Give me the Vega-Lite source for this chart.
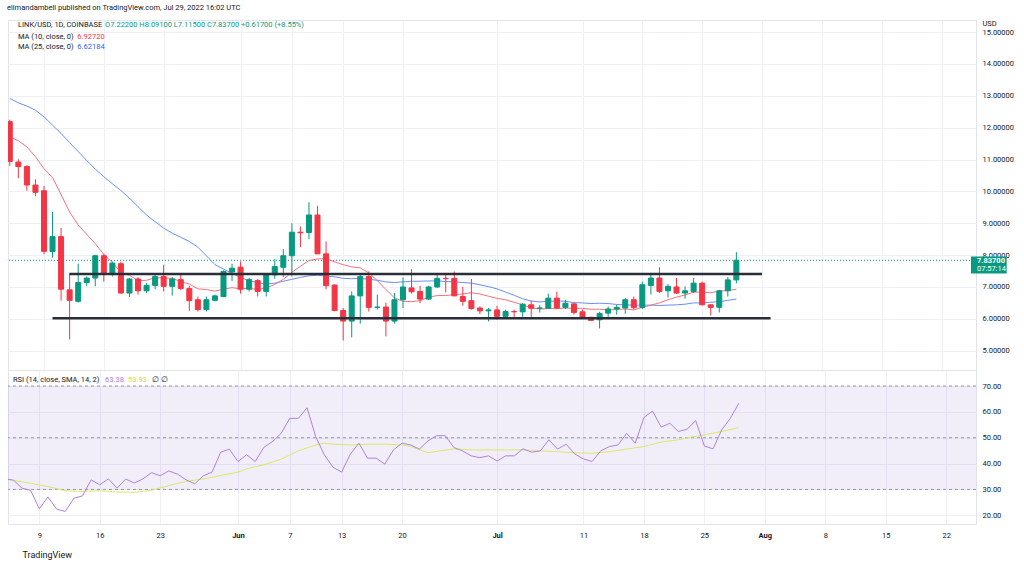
{
  "$schema": "https://vega.github.io/schema/vega-lite/v6.json",
  "background": "#ffffff",
  "padding": {"left": 7, "top": 4, "right": 0, "bottom": 0},
  "title": {"text": "elimandambell published on TradingView.com, Jul 29, 2022 16:02 UTC", "anchor": "start", "fontSize": 7.5, "fontWeight": "normal", "color": "#131722", "offset": 7, "font": "Roboto"},
  "spacing": 0,
  "bounds": "flush",
  "datasets": {
    "daily": [
      {"date": "2022-05-05", "open": 12.19, "high": 12.25, "low": 10.8, "close": 10.94, "ma10": 11.71, "ma25": 12.92, "rsi": 34.1},
      {"date": "2022-05-06", "open": 10.92, "high": 11.01, "low": 10.41, "close": 10.78, "ma10": 11.59, "ma25": 12.78, "rsi": 33.6},
      {"date": "2022-05-07", "open": 10.78, "high": 10.82, "low": 10.02, "close": 10.2, "ma10": 11.4, "ma25": 12.68, "rsi": 30.5},
      {"date": "2022-05-08", "open": 10.2, "high": 10.38, "low": 9.85, "close": 9.97, "ma10": 11.09, "ma25": 12.55, "rsi": 29.6},
      {"date": "2022-05-09", "open": 10.02, "high": 10.17, "low": 8.03, "close": 8.12, "ma10": 10.71, "ma25": 12.34, "rsi": 22.5},
      {"date": "2022-05-10", "open": 8.11, "high": 9.35, "low": 7.92, "close": 8.58, "ma10": 10.44, "ma25": 12.08, "rsi": 27.1},
      {"date": "2022-05-11", "open": 8.58, "high": 8.85, "low": 6.57, "close": 6.93, "ma10": 9.9, "ma25": 11.82, "rsi": 22.4},
      {"date": "2022-05-12", "open": 6.91, "high": 7.44, "low": 5.35, "close": 6.58, "ma10": 9.35, "ma25": 11.53, "rsi": 21.5},
      {"date": "2022-05-13", "open": 6.55, "high": 7.73, "low": 6.51, "close": 7.14, "ma10": 8.95, "ma25": 11.25, "rsi": 26.6},
      {"date": "2022-05-14", "open": 7.14, "high": 7.33, "low": 7.02, "close": 7.28, "ma10": 8.65, "ma25": 10.97, "rsi": 27.5},
      {"date": "2022-05-15", "open": 7.28, "high": 8.01, "low": 7.02, "close": 7.98, "ma10": 8.36, "ma25": 10.7, "rsi": 33.7},
      {"date": "2022-05-16", "open": 7.98, "high": 8.04, "low": 7.17, "close": 7.41, "ma10": 8.02, "ma25": 10.46, "rsi": 31.8},
      {"date": "2022-05-17", "open": 7.41, "high": 7.8, "low": 7.33, "close": 7.75, "ma10": 7.77, "ma25": 10.24, "rsi": 34.1},
      {"date": "2022-05-18", "open": 7.73, "high": 7.8, "low": 6.79, "close": 6.81, "ma10": 7.46, "ma25": 10.03, "rsi": 30.5},
      {"date": "2022-05-19", "open": 6.81, "high": 7.28, "low": 6.68, "close": 7.25, "ma10": 7.37, "ma25": 9.79, "rsi": 34.0},
      {"date": "2022-05-20", "open": 7.25, "high": 7.31, "low": 6.76, "close": 6.88, "ma10": 7.2, "ma25": 9.52, "rsi": 32.5},
      {"date": "2022-05-21", "open": 6.88, "high": 7.12, "low": 6.81, "close": 7.05, "ma10": 7.21, "ma25": 9.26, "rsi": 34.1},
      {"date": "2022-05-22", "open": 7.05, "high": 7.41, "low": 6.93, "close": 7.33, "ma10": 7.29, "ma25": 9.05, "rsi": 36.5},
      {"date": "2022-05-23", "open": 7.33, "high": 7.7, "low": 6.86, "close": 7.02, "ma10": 7.28, "ma25": 8.85, "rsi": 35.3},
      {"date": "2022-05-24", "open": 7.02, "high": 7.31, "low": 6.73, "close": 7.25, "ma10": 7.27, "ma25": 8.69, "rsi": 37.2},
      {"date": "2022-05-25", "open": 7.23, "high": 7.41, "low": 6.91, "close": 6.95, "ma10": 7.17, "ma25": 8.56, "rsi": 35.9},
      {"date": "2022-05-26", "open": 6.95, "high": 7.04, "low": 6.25, "close": 6.57, "ma10": 7.09, "ma25": 8.43, "rsi": 33.7},
      {"date": "2022-05-27", "open": 6.6, "high": 6.7, "low": 6.23, "close": 6.29, "ma10": 6.94, "ma25": 8.25, "rsi": 32.2},
      {"date": "2022-05-28", "open": 6.29, "high": 6.7, "low": 6.23, "close": 6.6, "ma10": 6.92, "ma25": 7.98, "rsi": 35.3},
      {"date": "2022-05-29", "open": 6.58, "high": 6.76, "low": 6.55, "close": 6.72, "ma10": 6.87, "ma25": 7.7, "rsi": 36.7},
      {"date": "2022-05-30", "open": 6.7, "high": 7.52, "low": 6.68, "close": 7.49, "ma10": 6.93, "ma25": 7.56, "rsi": 44.4},
      {"date": "2022-05-31", "open": 7.47, "high": 7.73, "low": 7.19, "close": 7.59, "ma10": 6.98, "ma25": 7.43, "rsi": 45.6},
      {"date": "2022-06-01", "open": 7.62, "high": 7.8, "low": 6.79, "close": 6.93, "ma10": 6.94, "ma25": 7.3, "rsi": 40.8},
      {"date": "2022-06-02", "open": 6.93, "high": 7.28, "low": 6.86, "close": 7.23, "ma10": 6.96, "ma25": 7.19, "rsi": 43.4},
      {"date": "2022-06-03", "open": 7.2, "high": 7.25, "low": 6.7, "close": 6.86, "ma10": 6.92, "ma25": 7.14, "rsi": 40.8},
      {"date": "2022-06-04", "open": 6.86, "high": 7.43, "low": 6.7, "close": 7.4, "ma10": 6.97, "ma25": 7.09, "rsi": 46.3},
      {"date": "2022-06-05", "open": 7.38, "high": 7.87, "low": 7.26, "close": 7.64, "ma10": 7.08, "ma25": 7.12, "rsi": 48.5},
      {"date": "2022-06-06", "open": 7.62, "high": 8.19, "low": 7.31, "close": 7.98, "ma10": 7.24, "ma25": 7.18, "rsi": 51.7},
      {"date": "2022-06-07", "open": 7.98, "high": 9.0, "low": 7.33, "close": 8.72, "ma10": 7.46, "ma25": 7.24, "rsi": 57.5},
      {"date": "2022-06-08", "open": 8.72, "high": 8.9, "low": 8.25, "close": 8.7, "ma10": 7.65, "ma25": 7.3, "rsi": 57.5},
      {"date": "2022-06-09", "open": 8.71, "high": 9.66, "low": 8.5, "close": 9.26, "ma10": 7.83, "ma25": 7.35, "rsi": 61.6},
      {"date": "2022-06-10", "open": 9.26, "high": 9.55, "low": 8.04, "close": 8.04, "ma10": 7.88, "ma25": 7.37, "rsi": 50.4},
      {"date": "2022-06-11", "open": 8.04, "high": 8.43, "low": 6.93, "close": 7.04, "ma10": 7.89, "ma25": 7.34, "rsi": 43.4},
      {"date": "2022-06-12", "open": 7.06, "high": 7.08, "low": 6.24, "close": 6.26, "ma10": 7.79, "ma25": 7.32, "rsi": 38.6},
      {"date": "2022-06-13", "open": 6.26, "high": 6.34, "low": 5.32, "close": 5.93, "ma10": 7.7, "ma25": 7.27, "rsi": 36.7},
      {"date": "2022-06-14", "open": 5.93, "high": 6.86, "low": 5.42, "close": 6.72, "ma10": 7.63, "ma25": 7.26, "rsi": 43.6},
      {"date": "2022-06-15", "open": 6.72, "high": 7.38, "low": 5.85, "close": 7.33, "ma10": 7.6, "ma25": 7.27, "rsi": 47.9},
      {"date": "2022-06-16", "open": 7.33, "high": 7.49, "low": 6.23, "close": 6.36, "ma10": 7.44, "ma25": 7.24, "rsi": 42.1},
      {"date": "2022-06-17", "open": 6.36, "high": 6.76, "low": 6.29, "close": 6.37, "ma10": 7.2, "ma25": 7.21, "rsi": 42.1},
      {"date": "2022-06-18", "open": 6.37, "high": 6.51, "low": 5.45, "close": 5.93, "ma10": 6.92, "ma25": 7.16, "rsi": 39.8},
      {"date": "2022-06-19", "open": 5.93, "high": 6.81, "low": 5.85, "close": 6.6, "ma10": 6.66, "ma25": 7.14, "rsi": 45.3},
      {"date": "2022-06-20", "open": 6.6, "high": 7.3, "low": 6.34, "close": 7.0, "ma10": 6.55, "ma25": 7.16, "rsi": 47.9},
      {"date": "2022-06-21", "open": 6.97, "high": 7.56, "low": 6.79, "close": 6.85, "ma10": 6.54, "ma25": 7.18, "rsi": 47.2},
      {"date": "2022-06-22", "open": 6.86, "high": 7.04, "low": 6.49, "close": 6.62, "ma10": 6.57, "ma25": 7.18, "rsi": 45.6},
      {"date": "2022-06-23", "open": 6.62, "high": 7.04, "low": 6.6, "close": 7.0, "ma10": 6.68, "ma25": 7.19, "rsi": 48.8},
      {"date": "2022-06-24", "open": 7.0, "high": 7.44, "low": 6.97, "close": 7.27, "ma10": 6.73, "ma25": 7.19, "rsi": 50.8},
      {"date": "2022-06-25", "open": 7.27, "high": 7.38, "low": 6.83, "close": 7.26, "ma10": 6.73, "ma25": 7.17, "rsi": 50.8},
      {"date": "2022-06-26", "open": 7.27, "high": 7.49, "low": 6.72, "close": 6.72, "ma10": 6.76, "ma25": 7.16, "rsi": 46.2},
      {"date": "2022-06-27", "open": 6.7, "high": 7.0, "low": 6.41, "close": 6.55, "ma10": 6.78, "ma25": 7.14, "rsi": 44.9},
      {"date": "2022-06-28", "open": 6.57, "high": 7.25, "low": 6.29, "close": 6.32, "ma10": 6.82, "ma25": 7.12, "rsi": 43.0},
      {"date": "2022-06-29", "open": 6.34, "high": 6.39, "low": 6.15, "close": 6.25, "ma10": 6.78, "ma25": 7.07, "rsi": 42.3},
      {"date": "2022-06-30", "open": 6.25, "high": 6.34, "low": 5.92, "close": 6.28, "ma10": 6.71, "ma25": 7.01, "rsi": 43.0},
      {"date": "2022-07-01", "open": 6.28, "high": 6.41, "low": 5.97, "close": 6.08, "ma10": 6.64, "ma25": 6.94, "rsi": 41.0},
      {"date": "2022-07-02", "open": 6.08, "high": 6.29, "low": 6.02, "close": 6.23, "ma10": 6.6, "ma25": 6.84, "rsi": 43.0},
      {"date": "2022-07-03", "open": 6.23, "high": 6.29, "low": 6.06, "close": 6.22, "ma10": 6.52, "ma25": 6.74, "rsi": 43.0},
      {"date": "2022-07-04", "open": 6.22, "high": 6.49, "low": 6.06, "close": 6.46, "ma10": 6.44, "ma25": 6.63, "rsi": 45.7},
      {"date": "2022-07-05", "open": 6.44, "high": 6.57, "low": 6.06, "close": 6.33, "ma10": 6.34, "ma25": 6.56, "rsi": 44.4},
      {"date": "2022-07-06", "open": 6.33, "high": 6.43, "low": 6.2, "close": 6.34, "ma10": 6.31, "ma25": 6.53, "rsi": 44.9},
      {"date": "2022-07-07", "open": 6.33, "high": 6.79, "low": 6.31, "close": 6.65, "ma10": 6.32, "ma25": 6.55, "rsi": 49.2},
      {"date": "2022-07-08", "open": 6.65, "high": 6.85, "low": 6.31, "close": 6.34, "ma10": 6.32, "ma25": 6.56, "rsi": 45.6},
      {"date": "2022-07-09", "open": 6.36, "high": 6.6, "low": 6.31, "close": 6.49, "ma10": 6.34, "ma25": 6.55, "rsi": 47.5},
      {"date": "2022-07-10", "open": 6.47, "high": 6.49, "low": 6.13, "close": 6.2, "ma10": 6.33, "ma25": 6.51, "rsi": 43.7},
      {"date": "2022-07-11", "open": 6.22, "high": 6.29, "low": 6.02, "close": 6.05, "ma10": 6.33, "ma25": 6.5, "rsi": 41.8},
      {"date": "2022-07-12", "open": 6.05, "high": 6.06, "low": 5.93, "close": 5.95, "ma10": 6.3, "ma25": 6.48, "rsi": 40.8},
      {"date": "2022-07-13", "open": 5.97, "high": 6.22, "low": 5.7, "close": 6.17, "ma10": 6.3, "ma25": 6.49, "rsi": 44.9},
      {"date": "2022-07-14", "open": 6.18, "high": 6.39, "low": 6.06, "close": 6.31, "ma10": 6.28, "ma25": 6.48, "rsi": 46.6},
      {"date": "2022-07-15", "open": 6.31, "high": 6.44, "low": 6.13, "close": 6.36, "ma10": 6.29, "ma25": 6.45, "rsi": 47.2},
      {"date": "2022-07-16", "open": 6.34, "high": 6.65, "low": 6.16, "close": 6.6, "ma10": 6.31, "ma25": 6.44, "rsi": 51.7},
      {"date": "2022-07-17", "open": 6.6, "high": 6.7, "low": 6.29, "close": 6.35, "ma10": 6.28, "ma25": 6.43, "rsi": 47.9},
      {"date": "2022-07-18", "open": 6.36, "high": 7.17, "low": 6.31, "close": 7.07, "ma10": 6.36, "ma25": 6.43, "rsi": 57.8},
      {"date": "2022-07-19", "open": 7.05, "high": 7.44, "low": 6.76, "close": 7.28, "ma10": 6.43, "ma25": 6.43, "rsi": 60.3},
      {"date": "2022-07-20", "open": 7.28, "high": 7.62, "low": 6.81, "close": 6.86, "ma10": 6.5, "ma25": 6.42, "rsi": 54.1},
      {"date": "2022-07-21", "open": 6.88, "high": 7.09, "low": 6.67, "close": 7.02, "ma10": 6.6, "ma25": 6.43, "rsi": 55.6},
      {"date": "2022-07-22", "open": 7.0, "high": 7.28, "low": 6.78, "close": 6.81, "ma10": 6.68, "ma25": 6.44, "rsi": 52.4},
      {"date": "2022-07-23", "open": 6.81, "high": 7.02, "low": 6.63, "close": 6.88, "ma10": 6.75, "ma25": 6.46, "rsi": 53.3},
      {"date": "2022-07-24", "open": 6.86, "high": 7.28, "low": 6.81, "close": 7.12, "ma10": 6.84, "ma25": 6.5, "rsi": 56.6},
      {"date": "2022-07-25", "open": 7.12, "high": 7.17, "low": 6.42, "close": 6.44, "ma10": 6.84, "ma25": 6.5, "rsi": 46.8},
      {"date": "2022-07-26", "open": 6.44, "high": 6.45, "low": 6.1, "close": 6.36, "ma10": 6.82, "ma25": 6.52, "rsi": 45.7},
      {"date": "2022-07-27", "open": 6.36, "high": 6.91, "low": 6.2, "close": 6.88, "ma10": 6.87, "ma25": 6.54, "rsi": 53.0},
      {"date": "2022-07-28", "open": 6.88, "high": 7.31, "low": 6.7, "close": 7.222, "ma10": 6.89, "ma25": 6.58, "rsi": 57.5},
      {"date": "2022-07-29", "open": 7.222, "high": 8.091, "low": 7.115, "close": 7.837, "ma10": 6.927, "ma25": 6.622, "rsi": 63.38}
    ],
    "rsima": [
      {"date": "2022-05-05", "sma": 34.1}, {"date": "2022-05-08", "sma": 32.4}, {"date": "2022-05-10", "sma": 31.1},
      {"date": "2022-05-12", "sma": 29.5}, {"date": "2022-05-14", "sma": 29.2}, {"date": "2022-05-16", "sma": 29.5},
      {"date": "2022-05-18", "sma": 29.0}, {"date": "2022-05-20", "sma": 28.9}, {"date": "2022-05-22", "sma": 29.7},
      {"date": "2022-05-24", "sma": 31.5}, {"date": "2022-05-26", "sma": 33.1}, {"date": "2022-05-28", "sma": 34.1},
      {"date": "2022-05-30", "sma": 35.4}, {"date": "2022-06-01", "sma": 36.7}, {"date": "2022-06-02", "sma": 38.0},
      {"date": "2022-06-04", "sma": 39.5}, {"date": "2022-06-06", "sma": 41.7}, {"date": "2022-06-08", "sma": 44.9},
      {"date": "2022-06-10", "sma": 47.2}, {"date": "2022-06-11", "sma": 47.9}, {"date": "2022-06-12", "sma": 47.5},
      {"date": "2022-06-14", "sma": 47.2}, {"date": "2022-06-16", "sma": 47.5}, {"date": "2022-06-18", "sma": 47.5},
      {"date": "2022-06-20", "sma": 47.2}, {"date": "2022-06-21", "sma": 46.6}, {"date": "2022-06-23", "sma": 44.2},
      {"date": "2022-06-26", "sma": 45.7}, {"date": "2022-06-28", "sma": 45.3}, {"date": "2022-06-30", "sma": 45.3},
      {"date": "2022-07-02", "sma": 45.3}, {"date": "2022-07-04", "sma": 45.3}, {"date": "2022-07-06", "sma": 44.9},
      {"date": "2022-07-08", "sma": 44.6}, {"date": "2022-07-10", "sma": 44.2}, {"date": "2022-07-12", "sma": 44.0},
      {"date": "2022-07-14", "sma": 44.6}, {"date": "2022-07-16", "sma": 45.6}, {"date": "2022-07-18", "sma": 46.6},
      {"date": "2022-07-20", "sma": 48.3}, {"date": "2022-07-22", "sma": 49.2}, {"date": "2022-07-23", "sma": 50.0},
      {"date": "2022-07-25", "sma": 51.1}, {"date": "2022-07-27", "sma": 52.4}, {"date": "2022-07-29", "sma": 53.93}
    ],
    "levels": [
      {"start": "2022-05-12", "end": "2022-08-01", "price": 7.41},
      {"start": "2022-05-10", "end": "2022-08-02", "price": 6.02}
    ],
    "rsilevels": [{"level": 70}, {"level": 50}, {"level": 30}],
    "one": [{}]
  },
  "vconcat": [
    {
      "width": 968,
      "height": 350,
      "layer": [
        {
          "data": {"name": "one"},
          "mark": {"type": "rule", "color": "#089981", "strokeDash": [1, 2], "strokeWidth": 1},
          "encoding": {"y": {"datum": 7.837, "type": "quantitative", "scale": {"domain": [4.394, 15.38], "nice": false, "zero": false},
            "axis": {"orient": "right", "title": "USD", "titleAngle": 0, "titleX": 6, "titleY": 3, "titleAlign": "left", "titleBaseline": "middle", "titleFontWeight": "normal", "titleFontSize": 7.5, "titleColor": "#131722", "values": [5, 6, 7, 8, 9, 10, 11, 12, 13, 14, 15], "tickCount": 30, "format": ".5f", "labelOverlap": false, "ticks": false, "domain": false, "grid": true, "gridColor": "#eef0f5", "labelPadding": 6}}}
        },
        {
          "data": {"name": "daily"},
          "mark": {"type": "line", "color": "#6a8ff5", "strokeWidth": 1, "clip": true},
          "encoding": {
            "x": {"field": "date", "type": "temporal", "scale": {"type": "utc", "domain": [{"year": 2022, "month": 5, "date": 5, "hours": 9, "utc": true}, {"year": 2022, "month": 8, "date": 25, "hours": 10, "minutes": 48, "utc": true}]},
              "axis": {"title": null, "tickCount": 40, "values": [{"year": 2022, "month": 5, "date": 9, "utc": true}, {"year": 2022, "month": 5, "date": 16, "utc": true}, {"year": 2022, "month": 5, "date": 23, "utc": true}, {"year": 2022, "month": 6, "date": 1, "utc": true}, {"year": 2022, "month": 6, "date": 7, "utc": true}, {"year": 2022, "month": 6, "date": 13, "utc": true}, {"year": 2022, "month": 6, "date": 20, "utc": true}, {"year": 2022, "month": 7, "date": 1, "utc": true}, {"year": 2022, "month": 7, "date": 11, "utc": true}, {"year": 2022, "month": 7, "date": 18, "utc": true}, {"year": 2022, "month": 7, "date": 25, "utc": true}, {"year": 2022, "month": 8, "date": 1, "utc": true}, {"year": 2022, "month": 8, "date": 8, "utc": true}, {"year": 2022, "month": 8, "date": 15, "utc": true}, {"year": 2022, "month": 8, "date": 22, "utc": true}], "labels": false, "ticks": false, "domain": false, "grid": true, "gridColor": "#eef0f5"}},
            "y": {"field": "ma25", "type": "quantitative", "scale": {"domain": [4.394, 15.38], "nice": false, "zero": false}}
          }
        },
        {
          "data": {"name": "daily"},
          "mark": {"type": "line", "color": "#f5727c", "strokeWidth": 1, "clip": true},
          "encoding": {
            "x": {"field": "date", "type": "temporal", "scale": {"type": "utc", "domain": [{"year": 2022, "month": 5, "date": 5, "hours": 9, "utc": true}, {"year": 2022, "month": 8, "date": 25, "hours": 10, "minutes": 48, "utc": true}]}},
            "y": {"field": "ma10", "type": "quantitative", "scale": {"domain": [4.394, 15.38], "nice": false, "zero": false}}
          }
        },
        {
          "data": {"name": "daily"},
          "mark": {"type": "rule", "strokeWidth": 1, "clip": true},
          "encoding": {
            "x": {"field": "date", "type": "temporal", "scale": {"type": "utc", "domain": [{"year": 2022, "month": 5, "date": 5, "hours": 9, "utc": true}, {"year": 2022, "month": 8, "date": 25, "hours": 10, "minutes": 48, "utc": true}]}},
            "y": {"field": "low", "type": "quantitative", "scale": {"domain": [4.394, 15.38], "nice": false, "zero": false}},
            "y2": {"field": "high"},
            "color": {"condition": {"test": "datum.close >= datum.open", "value": "#089981"}, "value": "#f23645"}
          }
        },
        {
          "data": {"name": "daily"},
          "mark": {"type": "bar", "size": 5, "strokeWidth": 1, "clip": true},
          "encoding": {
            "x": {"field": "date", "type": "temporal", "scale": {"type": "utc", "domain": [{"year": 2022, "month": 5, "date": 5, "hours": 9, "utc": true}, {"year": 2022, "month": 8, "date": 25, "hours": 10, "minutes": 48, "utc": true}]}},
            "y": {"field": "open", "type": "quantitative", "scale": {"domain": [4.394, 15.38], "nice": false, "zero": false}},
            "y2": {"field": "close"},
            "color": {"condition": {"test": "datum.close >= datum.open", "value": "#089981"}, "value": "#f23645"},
            "stroke": {"condition": {"test": "datum.close >= datum.open", "value": "#089981"}, "value": "#f23645"}
          }
        },
        {
          "data": {"name": "levels"},
          "mark": {"type": "rule", "color": "#2a2e39", "strokeWidth": 2.5},
          "encoding": {
            "x": {"field": "start", "type": "temporal", "scale": {"type": "utc", "domain": [{"year": 2022, "month": 5, "date": 5, "hours": 9, "utc": true}, {"year": 2022, "month": 8, "date": 25, "hours": 10, "minutes": 48, "utc": true}]}},
            "x2": {"field": "end"},
            "y": {"field": "price", "type": "quantitative", "scale": {"domain": [4.394, 15.38], "nice": false, "zero": false}}
          }
        },
        {
          "data": {"name": "one"},
          "mark": {"type": "text", "align": "left", "baseline": "middle", "fontSize": 7.5, "color": "#131722", "text": "LINK/USD, 1D, COINBASE"},
          "encoding": {
            "x": {"datum": {"year": 2022, "month": 5, "date": 5, "hours": 22, "minutes": 54, "utc": true}, "type": "temporal", "scale": {"type": "utc", "domain": [{"year": 2022, "month": 5, "date": 5, "hours": 9, "utc": true}, {"year": 2022, "month": 8, "date": 25, "hours": 10, "minutes": 48, "utc": true}]}},
            "y": {"datum": 15.22, "type": "quantitative", "scale": {"domain": [4.394, 15.38], "nice": false, "zero": false}}
          }
        },
        {
          "data": {"name": "one"},
          "mark": {"type": "text", "align": "left", "baseline": "middle", "fontSize": 7.5, "color": "#089981", "text": "O7.22200  H8.09100  L7.11500  C7.83700  +0.61700 (+8.55%)"},
          "encoding": {
            "x": {"datum": {"year": 2022, "month": 5, "date": 16, "hours": 3, "minutes": 30, "utc": true}, "type": "temporal", "scale": {"type": "utc", "domain": [{"year": 2022, "month": 5, "date": 5, "hours": 9, "utc": true}, {"year": 2022, "month": 8, "date": 25, "hours": 10, "minutes": 48, "utc": true}]}},
            "y": {"datum": 15.22, "type": "quantitative", "scale": {"domain": [4.394, 15.38], "nice": false, "zero": false}}
          }
        },
        {
          "data": {"name": "one"},
          "mark": {"type": "text", "align": "left", "baseline": "middle", "fontSize": 7.5, "color": "#131722", "text": "MA (10, close, 0)"},
          "encoding": {
            "x": {"datum": {"year": 2022, "month": 5, "date": 5, "hours": 22, "minutes": 54, "utc": true}, "type": "temporal", "scale": {"type": "utc", "domain": [{"year": 2022, "month": 5, "date": 5, "hours": 9, "utc": true}, {"year": 2022, "month": 8, "date": 25, "hours": 10, "minutes": 48, "utc": true}]}},
            "y": {"datum": 14.86, "type": "quantitative", "scale": {"domain": [4.394, 15.38], "nice": false, "zero": false}}
          }
        },
        {
          "data": {"name": "one"},
          "mark": {"type": "text", "align": "left", "baseline": "middle", "fontSize": 7.5, "color": "#f23645", "text": "6.92720"},
          "encoding": {
            "x": {"datum": {"year": 2022, "month": 5, "date": 12, "hours": 21, "minutes": 38, "utc": true}, "type": "temporal", "scale": {"type": "utc", "domain": [{"year": 2022, "month": 5, "date": 5, "hours": 9, "utc": true}, {"year": 2022, "month": 8, "date": 25, "hours": 10, "minutes": 48, "utc": true}]}},
            "y": {"datum": 14.86, "type": "quantitative", "scale": {"domain": [4.394, 15.38], "nice": false, "zero": false}}
          }
        },
        {
          "data": {"name": "one"},
          "mark": {"type": "text", "align": "left", "baseline": "middle", "fontSize": 7.5, "color": "#131722", "text": "MA (25, close, 0)"},
          "encoding": {
            "x": {"datum": {"year": 2022, "month": 5, "date": 5, "hours": 22, "minutes": 54, "utc": true}, "type": "temporal", "scale": {"type": "utc", "domain": [{"year": 2022, "month": 5, "date": 5, "hours": 9, "utc": true}, {"year": 2022, "month": 8, "date": 25, "hours": 10, "minutes": 48, "utc": true}]}},
            "y": {"datum": 14.52, "type": "quantitative", "scale": {"domain": [4.394, 15.38], "nice": false, "zero": false}}
          }
        },
        {
          "data": {"name": "one"},
          "mark": {"type": "text", "align": "left", "baseline": "middle", "fontSize": 7.5, "color": "#2962ff", "text": "6.62184"},
          "encoding": {
            "x": {"datum": {"year": 2022, "month": 5, "date": 12, "hours": 21, "minutes": 38, "utc": true}, "type": "temporal", "scale": {"type": "utc", "domain": [{"year": 2022, "month": 5, "date": 5, "hours": 9, "utc": true}, {"year": 2022, "month": 8, "date": 25, "hours": 10, "minutes": 48, "utc": true}]}},
            "y": {"datum": 14.52, "type": "quantitative", "scale": {"domain": [4.394, 15.38], "nice": false, "zero": false}}
          }
        },
        {
          "data": {"name": "one"},
          "mark": {"type": "rect", "color": "#089981"},
          "encoding": {
            "x": {"datum": {"year": 2022, "month": 8, "date": 25, "hours": 10, "minutes": 48, "utc": true}, "type": "temporal", "scale": {"type": "utc", "domain": [{"year": 2022, "month": 5, "date": 5, "hours": 9, "utc": true}, {"year": 2022, "month": 8, "date": 25, "hours": 10, "minutes": 48, "utc": true}]}},
            "x2": {"datum": {"year": 2022, "month": 8, "date": 29, "hours": 15, "utc": true}},
            "y": {"datum": 7.96, "type": "quantitative", "scale": {"domain": [4.394, 15.38], "nice": false, "zero": false}},
            "y2": {"datum": 7.42}
          }
        },
        {
          "data": {"name": "one"},
          "mark": {"type": "text", "align": "left", "baseline": "middle", "fontSize": 7.5, "fontWeight": "bold", "color": "#ffffff", "text": "7.83700"},
          "encoding": {
            "x": {"datum": {"year": 2022, "month": 8, "date": 26, "hours": 3, "minutes": 30, "utc": true}, "type": "temporal", "scale": {"type": "utc", "domain": [{"year": 2022, "month": 5, "date": 5, "hours": 9, "utc": true}, {"year": 2022, "month": 8, "date": 25, "hours": 10, "minutes": 48, "utc": true}]}},
            "y": {"datum": 7.8, "type": "quantitative", "scale": {"domain": [4.394, 15.38], "nice": false, "zero": false}}
          }
        },
        {
          "data": {"name": "one"},
          "mark": {"type": "text", "align": "left", "baseline": "middle", "fontSize": 7.5, "color": "#ffffff", "text": "07:57:14"},
          "encoding": {
            "x": {"datum": {"year": 2022, "month": 8, "date": 26, "hours": 3, "minutes": 30, "utc": true}, "type": "temporal", "scale": {"type": "utc", "domain": [{"year": 2022, "month": 5, "date": 5, "hours": 9, "utc": true}, {"year": 2022, "month": 8, "date": 25, "hours": 10, "minutes": 48, "utc": true}]}},
            "y": {"datum": 7.555, "type": "quantitative", "scale": {"domain": [4.394, 15.38], "nice": false, "zero": false}}
          }
        }
      ]
    },
    {
      "width": 968,
      "height": 154,
      "layer": [
        {
          "data": {"name": "one"},
          "mark": {"type": "rect", "color": "#7e57c2", "opacity": 0.1},
          "encoding": {
            "y": {"datum": 30, "type": "quantitative", "scale": {"domain": [16.64, 76.19], "nice": false, "zero": false},
              "axis": {"orient": "right", "title": null, "values": [20, 30, 40, 50, 60, 70], "tickCount": 30, "format": ".2f", "labelOverlap": false, "ticks": false, "domain": false, "grid": true, "gridColor": "#eef0f5", "labelPadding": 6}},
            "y2": {"datum": 70}
          }
        },
        {
          "data": {"name": "rsilevels"},
          "mark": {"type": "rule", "color": "#9598a1", "strokeDash": [3, 3], "strokeWidth": 1},
          "encoding": {
            "y": {"field": "level", "type": "quantitative", "scale": {"domain": [16.64, 76.19], "nice": false, "zero": false}}
          }
        },
        {
          "data": {"name": "rsima"},
          "mark": {"type": "line", "color": "#dbe86a", "strokeWidth": 1, "clip": true},
          "encoding": {
            "x": {"field": "date", "type": "temporal", "scale": {"type": "utc", "domain": [{"year": 2022, "month": 5, "date": 5, "hours": 9, "utc": true}, {"year": 2022, "month": 8, "date": 25, "hours": 10, "minutes": 48, "utc": true}]},
              "axis": {"title": "TradingView", "titleX": 14, "titleY": 30, "titleAlign": "left", "titleBaseline": "middle", "titleAnchor": "start", "titleFontSize": 9, "titleFontWeight": "normal", "titleColor": "#131722", "tickCount": 40, "values": [{"year": 2022, "month": 5, "date": 9, "utc": true}, {"year": 2022, "month": 5, "date": 16, "utc": true}, {"year": 2022, "month": 5, "date": 23, "utc": true}, {"year": 2022, "month": 6, "date": 1, "utc": true}, {"year": 2022, "month": 6, "date": 7, "utc": true}, {"year": 2022, "month": 6, "date": 13, "utc": true}, {"year": 2022, "month": 6, "date": 20, "utc": true}, {"year": 2022, "month": 7, "date": 1, "utc": true}, {"year": 2022, "month": 7, "date": 11, "utc": true}, {"year": 2022, "month": 7, "date": 18, "utc": true}, {"year": 2022, "month": 7, "date": 25, "utc": true}, {"year": 2022, "month": 8, "date": 1, "utc": true}, {"year": 2022, "month": 8, "date": 8, "utc": true}, {"year": 2022, "month": 8, "date": 15, "utc": true}, {"year": 2022, "month": 8, "date": 22, "utc": true}],
                "labelExpr": "utcdate(datum.value) == 1 ? utcFormat(datum.value, '%b') : utcFormat(datum.value, '%-d')",
                "labelFontWeight": {"condition": {"test": "utcdate(datum.value) == 1", "value": "bold"}, "value": "normal"},
                "labelOverlap": false, "ticks": false, "domain": false, "grid": true, "gridColor": "#eef0f5", "labelPadding": 7}},
            "y": {"field": "sma", "type": "quantitative", "scale": {"domain": [16.64, 76.19], "nice": false, "zero": false}}
          }
        },
        {
          "data": {"name": "daily"},
          "mark": {"type": "line", "color": "#ad84dc", "strokeWidth": 1, "clip": true},
          "encoding": {
            "x": {"field": "date", "type": "temporal", "scale": {"type": "utc", "domain": [{"year": 2022, "month": 5, "date": 5, "hours": 9, "utc": true}, {"year": 2022, "month": 8, "date": 25, "hours": 10, "minutes": 48, "utc": true}]}},
            "y": {"field": "rsi", "type": "quantitative", "scale": {"domain": [16.64, 76.19], "nice": false, "zero": false}}
          }
        },
        {
          "data": {"name": "one"},
          "mark": {"type": "text", "align": "left", "baseline": "middle", "fontSize": 7.5, "color": "#131722", "text": "RSI (14, close, SMA, 14, 2)"},
          "encoding": {
            "x": {"datum": {"year": 2022, "month": 5, "date": 5, "hours": 22, "minutes": 54, "utc": true}, "type": "temporal", "scale": {"type": "utc", "domain": [{"year": 2022, "month": 5, "date": 5, "hours": 9, "utc": true}, {"year": 2022, "month": 8, "date": 25, "hours": 10, "minutes": 48, "utc": true}]}},
            "y": {"datum": 72.44, "type": "quantitative", "scale": {"domain": [16.64, 76.19], "nice": false, "zero": false}}
          }
        },
        {
          "data": {"name": "one"},
          "mark": {"type": "text", "align": "left", "baseline": "middle", "fontSize": 7.5, "color": "#ab7ddb", "text": "63.38"},
          "encoding": {
            "x": {"datum": {"year": 2022, "month": 5, "date": 16, "hours": 14, "minutes": 33, "utc": true}, "type": "temporal", "scale": {"type": "utc", "domain": [{"year": 2022, "month": 5, "date": 5, "hours": 9, "utc": true}, {"year": 2022, "month": 8, "date": 25, "hours": 10, "minutes": 48, "utc": true}]}},
            "y": {"datum": 72.44, "type": "quantitative", "scale": {"domain": [16.64, 76.19], "nice": false, "zero": false}}
          }
        },
        {
          "data": {"name": "one"},
          "mark": {"type": "text", "align": "left", "baseline": "middle", "fontSize": 7.5, "color": "#d4e33c", "text": "53.93"},
          "encoding": {
            "x": {"datum": {"year": 2022, "month": 5, "date": 19, "hours": 6, "minutes": 27, "utc": true}, "type": "temporal", "scale": {"type": "utc", "domain": [{"year": 2022, "month": 5, "date": 5, "hours": 9, "utc": true}, {"year": 2022, "month": 8, "date": 25, "hours": 10, "minutes": 48, "utc": true}]}},
            "y": {"datum": 72.44, "type": "quantitative", "scale": {"domain": [16.64, 76.19], "nice": false, "zero": false}}
          }
        },
        {
          "data": {"name": "one"},
          "mark": {"type": "text", "align": "left", "baseline": "middle", "fontSize": 7.5, "color": "#131722", "text": "∅"},
          "encoding": {
            "x": {"datum": {"year": 2022, "month": 5, "date": 22, "hours": 1, "minutes": 8, "utc": true}, "type": "temporal", "scale": {"type": "utc", "domain": [{"year": 2022, "month": 5, "date": 5, "hours": 9, "utc": true}, {"year": 2022, "month": 8, "date": 25, "hours": 10, "minutes": 48, "utc": true}]}},
            "y": {"datum": 72.44, "type": "quantitative", "scale": {"domain": [16.64, 76.19], "nice": false, "zero": false}}
          }
        },
        {
          "data": {"name": "one"},
          "mark": {"type": "text", "align": "left", "baseline": "middle", "fontSize": 7.5, "color": "#131722", "text": "∅"},
          "encoding": {
            "x": {"datum": {"year": 2022, "month": 5, "date": 23, "hours": 2, "minutes": 8, "utc": true}, "type": "temporal", "scale": {"type": "utc", "domain": [{"year": 2022, "month": 5, "date": 5, "hours": 9, "utc": true}, {"year": 2022, "month": 8, "date": 25, "hours": 10, "minutes": 48, "utc": true}]}},
            "y": {"datum": 72.44, "type": "quantitative", "scale": {"domain": [16.64, 76.19], "nice": false, "zero": false}}
          }
        }
      ]
    }
  ],
  "config": {
    "font": "Roboto",
    "view": {"stroke": "#e0e3eb", "strokeWidth": 1},
    "axis": {"labelFont": "Roboto", "labelColor": "#131722", "labelFontSize": 7.5, "titleFont": "Roboto", "labelOverlap": false},
    "text": {"font": "Roboto"}
  }
}
